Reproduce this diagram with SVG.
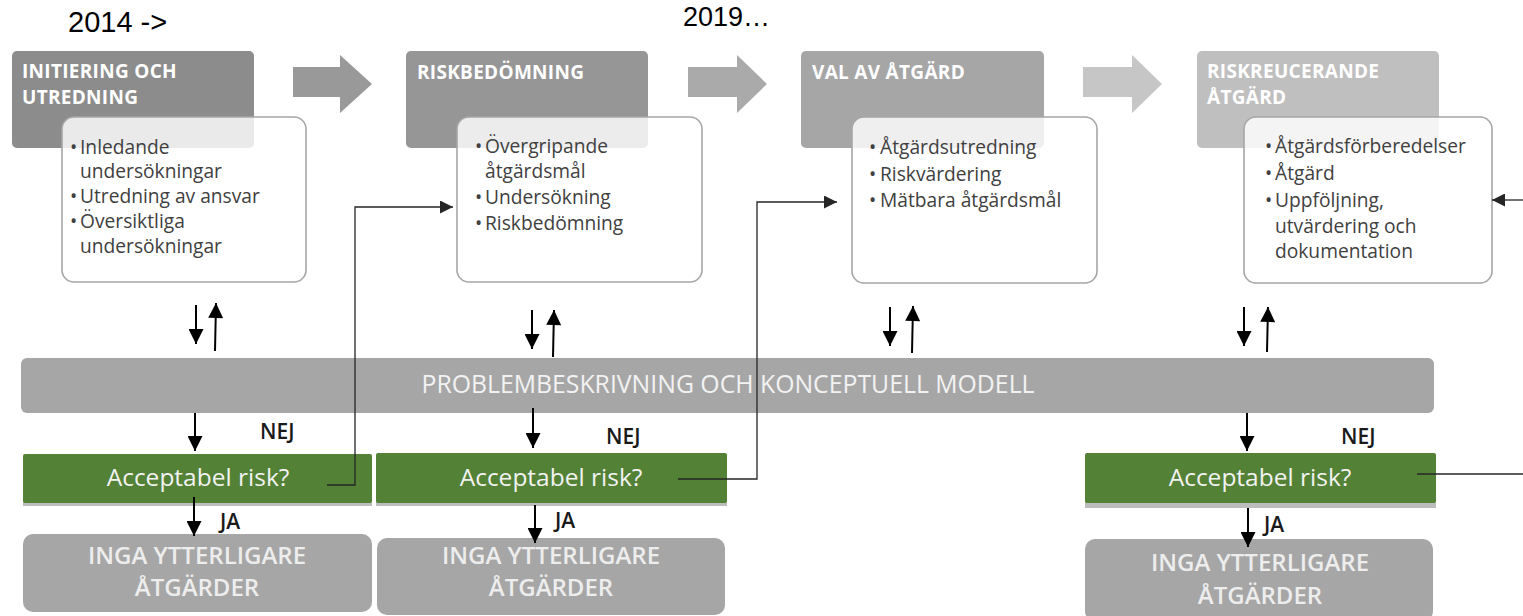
<svg xmlns="http://www.w3.org/2000/svg" width="1523" height="616" viewBox="0 0 1523 616">
<defs>
<style>
.hdr{font-family:"Open Sans","Liberation Sans",sans-serif;font-weight:700;font-size:19px;fill:#ffffff;letter-spacing:0.3px}
.card{fill:#ffffff;fill-opacity:0.82;stroke:#a6a6a6;stroke-width:1.6}
.li{font-family:"Open Sans","Liberation Sans",sans-serif;font-size:19.2px;fill:#404040}
.band{fill:#a6a6a6}
.bandt{font-family:"Open Sans","Liberation Sans",sans-serif;font-size:24.8px;fill:#f2f2f2;text-anchor:middle}
.green{fill:#538135}
.gt{font-family:"Open Sans","Liberation Sans",sans-serif;font-size:24.5px;fill:#f2f2f2;text-anchor:middle}
.grey{fill:#a6a6a6}
.greyt{font-family:"Open Sans","Liberation Sans",sans-serif;font-weight:600;font-size:24px;fill:#ededed;text-anchor:middle}
.lbl{font-family:"Open Sans","Liberation Sans",sans-serif;font-weight:600;font-size:21px;fill:#1a1a1a}
.year{font-family:"Liberation Sans",Arial,sans-serif;font-size:27px;fill:#000000}
.arr{stroke:#000000;stroke-width:2;fill:none}
.con{stroke:#262626;stroke-width:1.3;fill:none}
</style>
<marker id="ah" viewBox="0 0 10 10" refX="10" refY="5" markerUnits="userSpaceOnUse" markerWidth="17" markerHeight="15" orient="auto">
<path d="M0,0 L10,5 L0,10 z" fill="#000000"/>
</marker>
<marker id="ahc" viewBox="0 0 10 10" refX="10" refY="5" markerUnits="userSpaceOnUse" markerWidth="16" markerHeight="13" orient="auto">
<path d="M0,0 L10,5 L0,10 z" fill="#262626"/>
</marker>
</defs>
<rect width="1523" height="616" fill="#ffffff"/>

<text class="year" x="68" y="32" style="font-size:29px">2014 -&gt;</text>
<text class="year" x="683" y="26">2019…</text>

<!-- big process arrows -->
<g id="process-arrows">
<path d="M293,67 L340,67 L340,55 L372,84 L340,113 L340,97 L293,97 z" fill="#999999"/>
<path d="M688,67 L737,67 L737,55 L767,84 L737,113 L737,97 L688,97 z" fill="#aaaaaa"/>
<path d="M1083,67 L1132,67 L1132,55 L1162,84 L1132,113 L1132,97 L1083,97 z" fill="#c6c6c6"/>
</g>

<g id="stage1">
<rect x="12" y="51" width="242" height="97" rx="5" fill="#8c8c8c"/>
<text class="hdr" x="22" y="78">INITIERING OCH</text>
<text class="hdr" x="22" y="104">UTREDNING</text>
<rect class="card" x="62" y="117" width="244" height="165" rx="12"/>
<text class="li" x="70" y="154">•</text><text class="li" x="80" y="154">Inledande</text>
<text class="li" x="80" y="178">undersökningar</text>
<text class="li" x="70" y="203">•</text><text class="li" x="80" y="203">Utredning av ansvar</text>
<text class="li" x="70" y="228">•</text><text class="li" x="80" y="228">Översiktliga</text>
<text class="li" x="80" y="253">undersökningar</text>
</g>

<g id="stage2">
<rect x="406" y="51" width="242" height="97" rx="5" fill="#969696"/>
<text class="hdr" x="417" y="79">RISKBEDÖMNING</text>
<rect class="card" x="457" y="117" width="245" height="165" rx="12"/>
<text class="li" x="475" y="153">•</text><text class="li" x="485" y="153">Övergripande</text>
<text class="li" x="485" y="178">åtgärdsmål</text>
<text class="li" x="475" y="204">•</text><text class="li" x="485" y="204">Undersökning</text>
<text class="li" x="475" y="230">•</text><text class="li" x="485" y="230">Riskbedömning</text>
</g>

<g id="stage3">
<rect x="801" y="51" width="243" height="97" rx="5" fill="#a6a6a6"/>
<text class="hdr" x="812" y="79">VAL AV ÅTGÄRD</text>
<rect class="card" x="852" y="117" width="245" height="166" rx="12"/>
<text class="li" x="869" y="154">•</text><text class="li" x="880" y="154">Åtgärdsutredning</text>
<text class="li" x="869" y="181">•</text><text class="li" x="880" y="181">Riskvärdering</text>
<text class="li" x="869" y="207">•</text><text class="li" x="880" y="207">Mätbara åtgärdsmål</text>
</g>

<g id="stage4">
<rect x="1197" y="51" width="242" height="97" rx="5" fill="#bfbfbf"/>
<text class="hdr" x="1207" y="78">RISKREUCERANDE</text>
<text class="hdr" x="1207" y="104">ÅTGÄRD</text>
<rect class="card" x="1244" y="117" width="248" height="166" rx="12"/>
<text class="li" x="1265" y="153">•</text><text class="li" x="1275" y="153">Åtgärdsförberedelser</text>
<text class="li" x="1265" y="180">•</text><text class="li" x="1275" y="180">Åtgärd</text>
<text class="li" x="1265" y="207">•</text><text class="li" x="1275" y="207">Uppföljning,</text>
<text class="li" x="1275" y="233">utvärdering och</text>
<text class="li" x="1275" y="258">dokumentation</text>
</g>

<g id="model-band">
<rect class="band" x="21" y="358" width="1413" height="55" rx="6"/>
<text class="bandt" x="728" y="393">PROBLEMBESKRIVNING OCH KONCEPTUELL MODELL</text>
</g>

<g id="decision1">
<rect x="23" y="457" width="349" height="49" fill="#bdbdbd"/>
<rect class="green" x="23" y="454" width="349" height="49" rx="2"/>
<text class="gt" x="198" y="486">Acceptabel risk?</text>
</g>
<g id="decision2">
<rect x="376" y="456" width="351" height="50" fill="#bdbdbd"/>
<rect class="green" x="376" y="453" width="351" height="50" rx="2"/>
<text class="gt" x="551" y="486">Acceptabel risk?</text>
</g>
<g id="decision3">
<rect x="1085" y="456" width="351" height="52" fill="#bdbdbd"/>
<rect class="green" x="1085" y="453" width="351" height="50" rx="2"/>
<text class="gt" x="1260" y="486">Acceptabel risk?</text>
</g>

<g id="end1">
<rect class="grey" x="23" y="534" width="349" height="78" rx="10"/>
<text class="greyt" x="197" y="564">INGA YTTERLIGARE</text>
<text class="greyt" x="197" y="596">ÅTGÄRDER</text>
</g>
<g id="end2">
<rect class="grey" x="377" y="538" width="348" height="77" rx="10"/>
<text class="greyt" x="551" y="564">INGA YTTERLIGARE</text>
<text class="greyt" x="551" y="596">ÅTGÄRDER</text>
</g>
<g id="end3">
<rect class="grey" x="1085" y="539" width="348" height="82" rx="10"/>
<text class="greyt" x="1260" y="571">INGA YTTERLIGARE</text>
<text class="greyt" x="1260" y="604">ÅTGÄRDER</text>
</g>

<g id="connectors">
<!-- up/down pairs above band -->
<line class="arr" x1="196" y1="305" x2="196" y2="344" marker-end="url(#ah)"/>
<line class="arr" x1="215" y1="351" x2="216" y2="303" marker-end="url(#ah)"/>
<line class="arr" x1="532" y1="310" x2="532" y2="349" marker-end="url(#ah)"/>
<line class="arr" x1="553" y1="357" x2="554" y2="310" marker-end="url(#ah)"/>
<line class="arr" x1="890" y1="307" x2="890" y2="346" marker-end="url(#ah)"/>
<line class="arr" x1="912" y1="353" x2="913" y2="306" marker-end="url(#ah)"/>
<line class="arr" x1="1244" y1="307" x2="1244" y2="346" marker-end="url(#ah)"/>
<line class="arr" x1="1267" y1="352" x2="1268" y2="307" marker-end="url(#ah)"/>
<!-- band to decisions -->
<line class="arr" x1="195" y1="413" x2="195" y2="451" marker-end="url(#ah)"/>
<line class="arr" x1="533" y1="408" x2="533" y2="448" marker-end="url(#ah)"/>
<line class="arr" x1="1247" y1="413" x2="1247" y2="451" marker-end="url(#ah)"/>
<!-- decisions to ends (JA) -->
<line class="arr" x1="194" y1="497" x2="194" y2="536" marker-end="url(#ah)"/>
<line class="arr" x1="535" y1="505" x2="535" y2="543" marker-end="url(#ah)"/>
<line class="arr" x1="1248" y1="508" x2="1248" y2="547" marker-end="url(#ah)"/>
<!-- NEJ loops -->
<polyline class="con" points="327,485 355,485 355,207 453,207" marker-end="url(#ahc)"/>
<polyline class="con" points="678,479 757,479 757,202 837,202" marker-end="url(#ahc)"/>
<line class="con" x1="1417" y1="474" x2="1523" y2="474"/>
<line class="con" x1="1523" y1="200" x2="1492" y2="200" marker-end="url(#ahc)"/>
<text class="lbl" x="260" y="439">NEJ</text>
<text class="lbl" x="606" y="444">NEJ</text>
<text class="lbl" x="1341" y="444">NEJ</text>
<text class="lbl" x="220" y="529">JA</text>
<text class="lbl" x="555" y="528">JA</text>
<text class="lbl" x="1264" y="532">JA</text>
</g>
</svg>
